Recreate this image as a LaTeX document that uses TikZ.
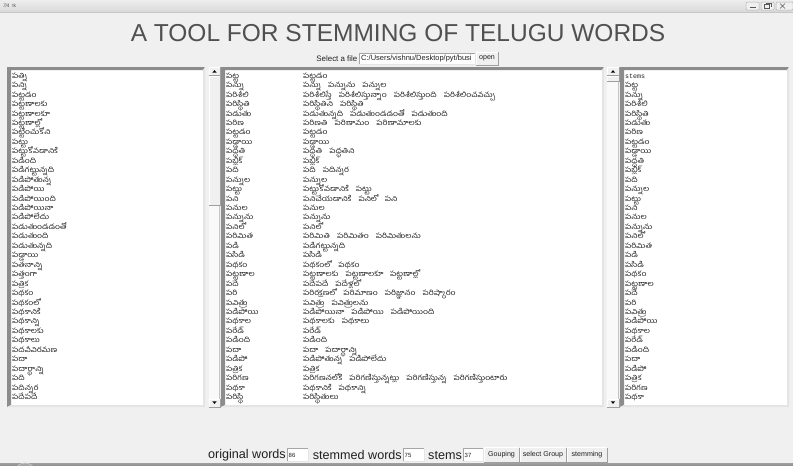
\documentclass[tikz,border=0pt]{standalone}
\usepackage{fontspec}
\setmainfont{Liberation Sans}
\newfontfamily\te[Script=Telugu,FakeStretch=1.2]{Hind Guntur}
\newfontfamily\mono{Liberation Mono}
\definecolor{bg}{HTML}{F0F0F0}
\definecolor{lbdark}{HTML}{8C8C8C}
\definecolor{lblight}{HTML}{E4E4E4}
\definecolor{titlegray}{HTML}{505050}
\definecolor{txt}{HTML}{202020}
\newcommand\gp{\hspace{7pt}}
\newcommand\sunkenbox[4]{%
  \fill[white] (#1,#2) rectangle (#3,#4);
  \fill[lbdark] (#1,#2) -- (#3,#2) -- ({#3-2},{#2+3}) -- ({#1+4},{#2+3}) -- ({#1+4},{#4-2}) -- (#1,#4) -- cycle;
  \fill[lblight] (#3,#2) -- (#3,#4) -- (#1,#4) -- ({#1+4},{#4-2}) -- ({#3-2},{#4-2}) -- ({#3-2},{#2+3}) -- cycle;
}
\newcommand\raisedbox[4]{%
  \fill[bg] (#1,#2) rectangle (#3,#4);
  \draw[white,line width=0.8pt] (#1,#4) -- (#1,#2) -- (#3,#2);
  \draw[gray!75,line width=0.8pt] (#1,#4) -- (#3,#4) -- (#3,#2);
}
\newcommand\entrybox[4]{%
  \fill[white] (#1,#2) rectangle (#3,#4);
  \draw[gray!70,line width=0.7pt] (#1,#4) -- (#1,#2) -- (#3,#2);
  \draw[gray!20,line width=0.7pt] (#1,#4) -- (#3,#4) -- (#3,#2);
}
% x1 y1 x2 y2 thumb-top thumb-bottom
\newcommand\vscroll[6]{%
  \fill[white!60!bg] (#1,#2) rectangle (#3,#4);
  \draw[gray!45,line width=0.6pt] ({#3-0.5},#2) -- ({#3-0.5},#4);
  \raisedbox{#1}{#2}{#3}{{#2+8}}
  \fill[black] ({(#1+#3)/2-2.2},{#2+5.6}) -- ({(#1+#3)/2+2.2},{#2+5.6}) -- ({(#1+#3)/2},{#2+3.2}) -- cycle;
  \raisedbox{#1}{{#4-8}}{#3}{#4}
  \fill[black] ({(#1+#3)/2-2.2},{#4-5.6}) -- ({(#1+#3)/2+2.2},{#4-5.6}) -- ({(#1+#3)/2},{#4-3.2}) -- cycle;
  \raisedbox{#1}{#5}{#3}{#6}
}
\tikzset{
  listtxt/.style={anchor=base west,inner sep=0pt,text=txt,font=\te\fontsize{7.2}{8}\selectfont},
  monotxt/.style={anchor=base west,inner sep=0pt,text=txt,font=\mono\fontsize{6.6}{8}\selectfont},
  btntxt/.style={inner sep=0pt,text=txt,font=\fontsize{7.1}{8}\selectfont},
  numtxt/.style={anchor=west,inner sep=0pt,text=txt,font=\fontsize{6}{7}\selectfont},
  bigtxt/.style={inner sep=0pt,text=txt,font=\fontsize{12.6}{14}\selectfont},
}
\begin{document}
\begin{tikzpicture}[x=1pt,y=-1pt]
\useasboundingbox (0,0) rectangle (793,466);
\fill[bg] (0,0) rectangle (793,466);
% window title bar
\shade[top color=gray!14,bottom color=gray!30] (0,0) rectangle (793,12);
\draw[gray!45,line width=0.5pt] (0,12) -- (793,12);
\node[anchor=west,inner sep=0pt,text=gray!70!black,font=\fontsize{5}{6}\selectfont] (tk) at (3,5.5) {{\itshape 7\kern-0.4pt/\kern-0.4pt4}\hspace{3pt}tk};
\foreach \bx/\bw [count=\k] in {746/13,761/13,776/17}{
  \draw[gray!60,fill=gray!12,rounded corners=1pt,line width=0.5pt] (\bx,2) rectangle ({\bx+\bw},10);
}
\draw[gray!70!black,line width=0.6pt] (749.5,7.5) -- (755.5,7.5);
\draw[gray!70!black,line width=0.5pt] (764.5,4.5) rectangle (769.5,8) (766,3.5) -- (771,3.5) -- (771,6.5);
\draw[gray!70!black,line width=0.6pt] (780,3.5) -- (785,8.5) (785,3.5) -- (780,8.5);
% title
\node[inner sep=0pt,text=titlegray,font=\fontsize{24.5}{28}\selectfont] (title) at (398,33.5) {A TOOL FOR STEMMING OF TELUGU WORDS};
% file chooser
\node[inner sep=0pt,text=txt,font=\fontsize{7.9}{9}\selectfont,anchor=east] (sel) at (357.5,58.5) {Select a file};
\entrybox{359}{53}{475}{64}
\node[anchor=west,inner sep=0pt,text=txt,font=\fontsize{7.5}{8}\selectfont] (path) at (361,58.5) {C:/Users/vishnu/Desktop/pyt/busi};
\raisedbox{476}{52}{498}{65}
\node[btntxt] (open) at (487,58.5) {open};
% list boxes
\sunkenbox{7}{67}{205}{407}
\vscroll{209}{67}{220}{407}{76}{205}
\sunkenbox{221}{67}{604}{407}
\vscroll{607}{67}{619}{407}{76}{81}
\sunkenbox{620}{67}{789}{407}
% original words
\foreach \w [count=\i] in {పత్ని,పన్ని,పట్టడం,పట్టణాలకు,పట్టణాలకూ,పట్టణాల్లో,పట్టించుకోని,పట్టు,పట్టుకోవడానికి,పడింది,పడిగట్టున్నది,పడిపోతున్న,పడిపోయి,పడిపోయింది,పడిపోయినా,పడిపోలేదు,పడుతుండడంతో,పడుతుంది,పడుతున్నది,పడ్డాయి,పతనాన్ని,పత్తంగా,పత్రిక,పథకం,పథకంలో,పథకానికి,పథకాన్ని,పథకాలకు,పథకాలు,పదవీవిరమణ,పదా,పదార్థాన్ని,పది,పదిన్నర,పదేపదే}{
  \node[listtxt] (o\i) at (12,{78.2+(\i-1)*9.45}) {\w};
}
% groups
\foreach \s/\w [count=\i] in {పట్ట/పట్టడం,
 పన్ను/పన్ను\gp పన్నును\gp పన్నుల,
 పరిశీలి/పరిశీలిస్తే\gp పరిశీలిస్తున్నాం\gp పరిశీలిస్తుంది\gp పరిశీలించవచ్చు,
 పరిస్థితి/పరిస్థితిని\gp పరిస్థితి,
 పడుతు/పడుతున్నది\gp పడుతుండడంతో\gp పడుతుంది,
 పరిణ/పరిణతి\gp పరిణామం\gp పరిణామాలకు,
 పట్టడం/పట్టడం,
 పడ్డాయి/పడ్డాయి,
 పద్ధతి/పద్ధతి\gp పద్ధతిని,
 పబ్లిక్/పబ్లిక్,
 పది/పది\gp పదిన్నర,
 పన్నుల/పన్నుల,
 పట్టు/పట్టుకోవడానికి\gp పట్టు,
 పని/పనిచేయడానికి\gp పనిలో\gp పని,
 పనుల/పనుల,
 పన్నును/పన్నును,
 పనిలో/పనిలో,
 పరిమిత/పరిమితి\gp పరిమితం\gp పరిమితులను,
 పడి/పడిగట్టున్నది,
 పసిడి/పసిడి,
 పథకం/పథకంలో\gp పథకం,
 పట్టణాల/పట్టణాలకు\gp పట్టణాలకూ\gp పట్టణాల్లో,
 పదే/పదేపదే\gp పదేళ్లలో,
 పరి/పరిరక్షణలో\gp పరిమాణం\gp పరిజ్ఞానం\gp పరిష్కారం,
 పవిత్రు/పవిత్రు\gp పవిత్రులను,
 పడిపోయి/పడిపోయినా\gp పడిపోయి\gp పడిపోయింది,
 పథకాల/పథకాలకు\gp పథకాలు,
 పరేడ్/పరేడ్,
 పడింది/పడింది,
 పదా/పదా\gp పదార్థాన్ని,
 పడిపో/పడిపోతున్న\gp పడిపోలేదు,
 పత్రిక/పత్రిక,
 పరిగణ/పరిగణనలోకి\gp పరిగణిస్తున్నట్లు\gp పరిగణిస్తున్న\gp పరిగణిస్తుంటారు,
 పథకా/పథకానికి\gp పథకాన్ని,
 పరిస్థి/పరిస్థితులు}{
  \node[listtxt] (s\i) at (226,{78.2+(\i-1)*9.45}) {\s};
  \node[listtxt] (g\i) at (303,{78.2+(\i-1)*9.45}) {\w};
}
% stems
\node[monotxt] (st0) at (625,78.2) {stems};
\foreach \w [count=\i] in {పట్ట,పన్ను,పరిశీలి,పరిస్థితి,పడుతు,పరిణ,పట్టడం,పడ్డాయి,పద్ధతి,పబ్లిక్,పది,పన్నుల,పట్టు,పని,పనుల,పన్నును,పనిలో,పరిమిత,పడి,పసిడి,పథకం,పట్టణాల,పదే,పరి,పవిత్రు,పడిపోయి,పథకాల,పరేడ్,పడింది,పదా,పడిపో,పత్రిక,పరిగణ,పథకా}{
  \node[listtxt] (st\i) at (625,{78.2+\i*9.45}) {\w};
}
% bottom row
\node[bigtxt,anchor=east] (ow) at (286,455) {original words};
\entrybox{287}{448.5}{308}{461.5}
\node[numtxt] (n1) at (288.5,455) {86};
\node[bigtxt,anchor=east] (sw) at (402,455) {stemmed words};
\entrybox{403}{448.5}{424}{461.5}
\node[numtxt] (n2) at (404.5,455) {75};
\node[bigtxt,anchor=east] (sm) at (462,455) {stems};
\entrybox{463}{448.5}{483}{461.5}
\node[numtxt] (n3) at (464.5,455) {37};
\raisedbox{484}{447.5}{519}{462.5}
\node[btntxt] (b1) at (501.5,455) {Gouping};
\raisedbox{520}{447.5}{566}{462.5}
\node[btntxt] (b2) at (543,455) {select Group};
\raisedbox{567}{447.5}{607}{462.5}
\node[btntxt] (b3) at (587,455) {stemming};
% task bar edge
\shade[top color=gray!75,bottom color=gray!90] (0,463) rectangle (793,466);
\draw[gray!40,fill=gray!70,line width=0.6pt] (25,474) circle (11);
\end{tikzpicture}
\end{document}
